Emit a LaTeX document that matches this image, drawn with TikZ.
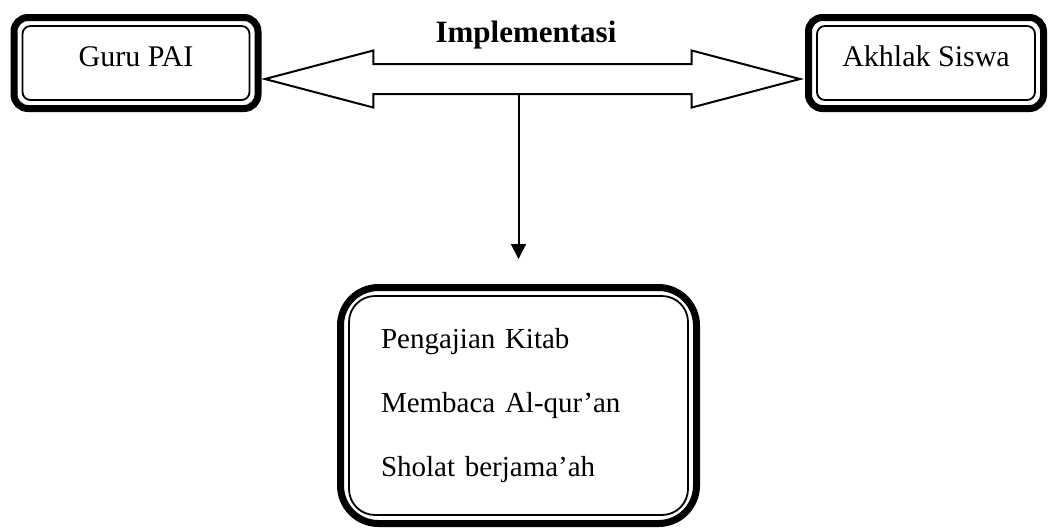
\documentclass[tikz,border=0pt]{standalone}
\usepackage{fontspec}
\setmainfont{Liberation Serif}
\usetikzlibrary{arrows.meta,shapes.arrows}

\begin{document}
\begin{tikzpicture}[
    x=0.5pt, y=-0.5pt,
    >={Triangle[length=7.5pt,width=7.5pt]},
    framebox/.style={
        draw,
        rectangle,
        line width=3.5pt,
        rounded corners=7pt
    },
    topbox/.style={
        framebox,
        minimum height=45.5pt,
        font=\fontsize{15}{18}\selectfont,
        text height=12pt,
        text depth=9pt
    },
    innerline/.style={line width=0.9pt, rounded corners=4pt},
    blockarrow/.style={
        draw,
        double arrow,
        line width=1pt,
        minimum height=267.5pt,
        minimum width=27.5pt,
        inner xsep=0pt,
        inner ysep=7pt,
        double arrow head extend=6.75pt,
        double arrow tip angle=29.5
    },
    arrow/.style={->, line width=1pt}
]
\useasboundingbox (0,0) rectangle (1049,527);

\node[topbox, minimum width=122pt] (guru) at (136,63) {Guru PAI};
\node[topbox, minimum width=117.5pt] (akhlak) at (926,63) {Akhlak Siswa};

\node[blockarrow] (impl) at (532.5,79) {};
\node[font=\bfseries\fontsize{15.5}{18}\selectfont] (impltext) at (526,35) {Implementasi};

\node[framebox, rounded corners=19pt, minimum width=178pt, minimum height=118pt,
      text width=137.5pt, inner xsep=20.25pt, align=left,
      font=\fontsize{14.5}{32}\selectfont] (kegiatan) at (518.5,405.5)
    {Pengajian Kitab\\Membaca Al-qur'an\\Sholat berjama'ah};

% thin inner frames
\foreach \n in {guru,akhlak}
    \draw[innerline] ([shift={(6pt,-6pt)}]\n.north west) rectangle ([shift={(-6pt,6pt)}]\n.south east);
\draw[innerline, rounded corners=13pt] ([shift={(6pt,-6pt)}]kegiatan.north west) rectangle ([shift={(-6pt,6pt)}]kegiatan.south east);

\coordinate (drop) at ([yshift=-7pt]impl.center);
\draw[arrow] (drop -| kegiatan.north) -- ([yshift=12.5pt]kegiatan.north);

\end{tikzpicture}
\end{document}
